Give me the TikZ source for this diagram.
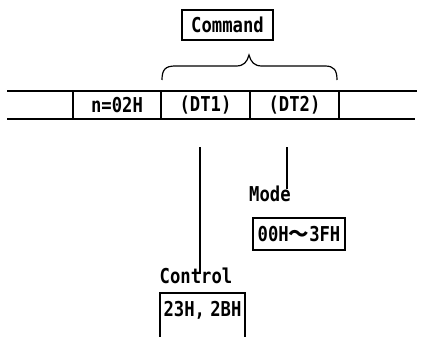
\documentclass[tikz,border=0pt]{standalone}
\usepackage{fontspec}
\newfontfamily\labfont[FakeStretch=0.84]{DejaVu Sans Mono}
\newfontfamily\cjk{Noto Sans CJK JP}
\begin{document}
\begin{tikzpicture}[x=1pt,y=-1pt,
  lab/.style={font=\labfont\bfseries\fontsize{20.5}{20.5}\selectfont, inner sep=0pt},
  cell/.style={lab, draw, line width=1.3pt, minimum height=28pt},
  box/.style={lab, draw, line width=1.3pt},
  mainline/.style={line width=1.8pt},
  conn/.style={line width=1.2pt}]
\useasboundingbox (0,0) rectangle (423,337);
% strip
\coordinate (tl) at (7,91); \coordinate (tr) at (417,91);
\coordinate (bl) at (7,119); \coordinate (br) at (415,119);
\draw[mainline] (tl) -- (tr);
\draw[mainline] (bl) -- (br);
\node[cell, minimum width=88pt] (n) at (117,105) {n=02H};
\node[cell, minimum width=89pt] (dt1) at (205.5,105) {(DT1)};
\node[cell, minimum width=89pt] (dt2) at (294.5,105) {(DT2)};
% command
\node[box, minimum width=91pt, minimum height=30pt] (cmd) at (227.5,25) {Command};
\coordinate (bl0) at (162,80);
\coordinate (tip) at (249,55);
\coordinate (br0) at (337,80);
\draw[conn] (bl0) .. controls (162,70) and (165,66) .. (175,66) -- (236,66)
  .. controls (244,66) and (247,62) .. (tip)
  .. controls (251,62) and (254,66) .. (262,66) -- (325,66)
  .. controls (334,66) and (337,70) .. (br0);
% mode
\coordinate (m1) at (287,147);
\node[lab, anchor=west] (mode) at (249,194) {Mode};
\node[box, minimum width=92pt, minimum height=32pt] (mbox) at (299,234) {00H{\cjk ～}3FH};
\draw[conn] (m1) -- ([yshift=-3pt]m1 |- mode.north);
% control
\coordinate (c1) at (200,147);
\node[lab] (ctrl) at (196,276) {Control};
\draw[conn] (c1) -- ([yshift=-6pt]c1 |- ctrl.north);
\node[lab] (cval) at (202.5,310) {23H,\kern-5pt\ 2BH};
\draw[conn] (160,337) -- (160,293) coordinate (cbl) -- (245,293) coordinate (cbr) -- (245,337);
\end{tikzpicture}
\end{document}
